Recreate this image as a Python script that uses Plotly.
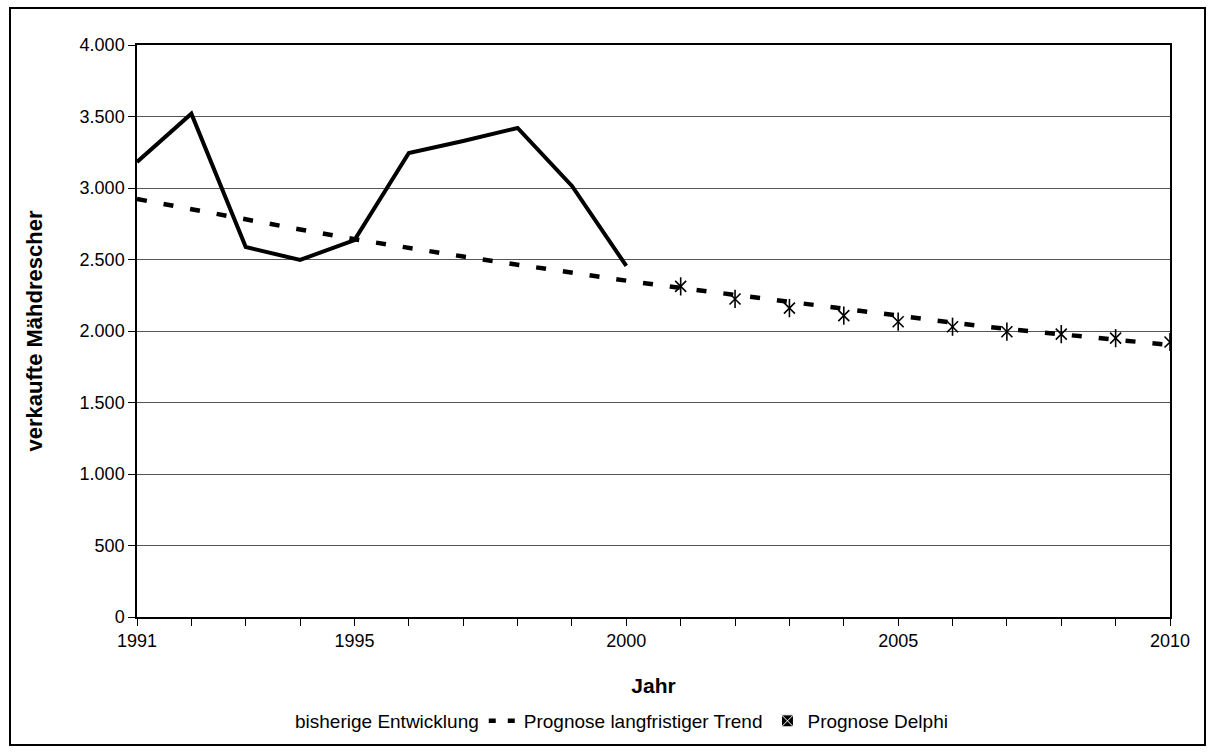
import plotly.graph_objects as go

# Verkaufte Mähdrescher: bisherige Entwicklung, langfristiger Trend, Delphi-Prognose
years_hist = [1991, 1992, 1993, 1994, 1995, 1996, 1997, 1998, 1999, 2000]
sales_hist = [3182, 3520, 2587, 2497, 2636, 3245, 3329, 3420, 3014, 2455]

years_trend = list(range(1991, 2011))
sales_trend = [2923, 2850, 2776, 2710, 2642, 2580, 2521, 2464, 2406, 2352,
               2301, 2252, 2201, 2155, 2105, 2059, 2014, 1977, 1937, 1902]

years_delphi = list(range(2001, 2011))
sales_delphi = [2312, 2224, 2160, 2108, 2065, 2030, 1995, 1978, 1950, 1923]

x_ticks = list(range(1991, 2011))
x_ticklabels = ["1991", "", "", "", "1995", "", "", "", "", "2000",
                "", "", "", "", "2005", "", "", "", "", "2010"]

FONT = "Liberation Sans, Arial, sans-serif"

fig = go.Figure()

fig.add_trace(go.Scatter(
    x=years_hist, y=sales_hist, mode="lines",
    line=dict(color="black", width=4), showlegend=False))

fig.add_trace(go.Scatter(
    x=years_trend, y=sales_trend, mode="lines",
    line=dict(color="black", width=4.5, dash="10px,17px"), showlegend=False))

# Delphi star marker: an x with a vertical stroke through it
fig.add_trace(go.Scatter(
    x=years_delphi, y=sales_delphi, mode="markers",
    marker=dict(symbol="x-thin-open", size=11, color="black",
                line=dict(color="black", width=1.6)),
    showlegend=False))
fig.add_trace(go.Scatter(
    x=years_delphi, y=sales_delphi, mode="markers",
    marker=dict(symbol="line-ns-open", size=13, color="black",
                line=dict(color="black", width=1.6)),
    showlegend=False))

# Legend entries
fig.add_trace(go.Scatter(
    x=[None], y=[None], mode="lines", name="bisherige Entwicklung",
    line=dict(color="rgba(0,0,0,0)", width=0)))
fig.add_trace(go.Scatter(
    x=[None], y=[None], mode="lines", name="Prognose langfristiger Trend",
    line=dict(color="black", width=4.5, dash="7px,12px")))
fig.add_trace(go.Scatter(
    x=[None], y=[None], mode="markers", name="Prognose Delphi",
    marker=dict(symbol="square-x", size=12, color="black",
                line=dict(color="white", width=1))))

L, R, T, B = 137, 1170, 45, 617
W, H = 1213, 754
pw, ph = R - L, B - T

def px(xp):
    return (xp - L) / pw

def py(yp):
    return (B - yp) / ph

fig.update_layout(
    width=W, height=H,
    margin=dict(l=L, r=W - R, t=T, b=H - B, pad=0),
    paper_bgcolor="white", plot_bgcolor="white",
    separators=",.",
    font=dict(family=FONT, size=18, color="black"),
    showlegend=True,
    legend=dict(orientation="h", x=px(604), xanchor="center",
                y=py(721), yanchor="middle",
                font=dict(family=FONT, size=19, color="black"),
                bgcolor="rgba(0,0,0,0)", itemwidth=30, tracegroupgap=0),
    shapes=[dict(type="rect", xref="paper", yref="paper",
                 x0=px(10), x1=px(1205), y0=py(745), y1=py(8),
                 line=dict(color="black", width=2), fillcolor="rgba(0,0,0,0)",
                 layer="below")],
)

fig.update_xaxes(
    range=[1991, 2010], tickmode="array", tickvals=x_ticks, ticktext=x_ticklabels,
    ticks="outside", ticklen=7, tickwidth=1, tickcolor="black",
    showline=True, linecolor="black", linewidth=1.5, mirror=True,
    showgrid=False, zeroline=False,
    tickfont=dict(family=FONT, size=18, color="black"),
    title=dict(text="<b>Jahr</b>", font=dict(family=FONT, size=21, color="black"),
               standoff=28),
)

fig.update_yaxes(
    range=[0, 4000], dtick=500, tickformat=",d",
    ticks="outside", ticklen=7, tickwidth=1, tickcolor="black",
    showline=True, linecolor="black", linewidth=1.5, mirror=True,
    showgrid=True, gridcolor="#555555", gridwidth=1, zeroline=False,
    tickfont=dict(family=FONT, size=18, color="black"),
    title=dict(text="<b>verkaufte Mähdrescher</b>",
               font=dict(family=FONT, size=22, color="black"), standoff=31),
)

fig.write_html("out.html")
